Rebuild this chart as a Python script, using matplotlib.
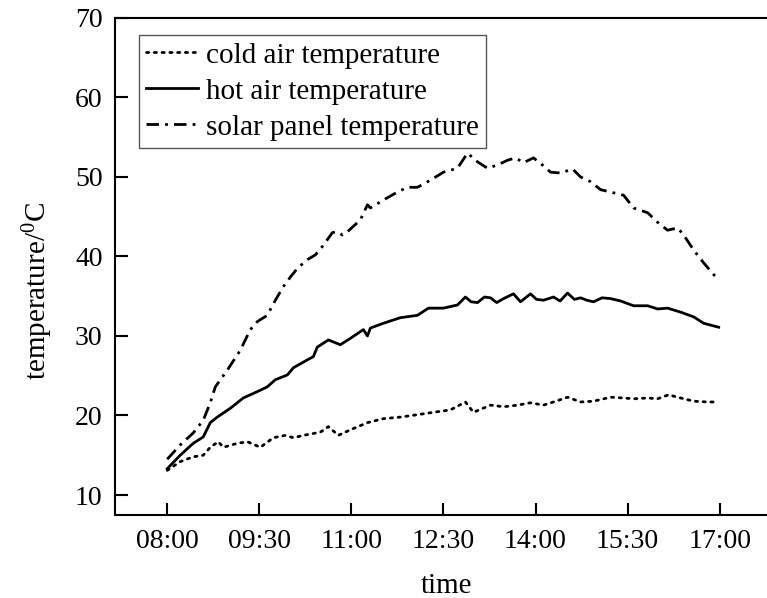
import matplotlib
matplotlib.use('Agg')
import matplotlib.pyplot as plt

plt.rcParams['font.family'] = 'Liberation Serif'
plt.rcParams['mathtext.fontset'] = 'custom'
plt.rcParams['mathtext.rm'] = 'Liberation Serif'
plt.rcParams['mathtext.it'] = 'Liberation Serif'

#minutes after 08:00 and temperatures
solarTimes = [0, 12.7, 25.4, 35.2, 42.1, 47.0, 58.7, 71.4, 81.2, 88.0, 97.8, 105.7,
              113.5, 120.3, 127.2, 137.0, 144.8, 152.6, 161.4, 166.3, 171.2, 176.1,
              188.8, 195.7, 198.6, 211.3, 225.0, 234.8, 244.6, 257.3, 270.0, 283.7,
              293.5, 303.3, 313.0, 322.8, 332.6, 340.4, 348.3, 358.0, 366.8, 374.7,
              384.5, 396.2, 404.0, 413.8, 423.6, 433.4, 446.1, 455.9, 469.6, 479.3,
              489.1, 498.9, 504.8, 514.6, 524.3, 539.0]
solarTemps = [14.5, 16.3, 17.8, 19.4, 21.6, 23.6, 25.7, 28.2, 30.8, 31.8, 32.6, 34.5,
              36.2, 37.4, 38.5, 39.6, 40.2, 41.4, 43.0, 43.1, 42.7, 43.1,
              44.6, 46.5, 46.1, 47.1, 48.1, 48.7, 48.7, 49.6, 50.6, 51.1,
              53.0, 51.9, 51.1, 51.5, 52.1, 52.4, 51.8, 52.4, 51.5, 50.6,
              50.5, 51.0, 50.0, 49.4, 48.4, 48.1, 47.7, 46.1, 45.5, 44.3,
              43.3, 43.6, 42.7, 40.8, 39.2, 37.0]

hotTimes = [0, 12.7, 25.4, 35.2, 42.1, 48.9, 61.6, 74.3, 88.0, 97.8, 105.7, 117.4,
            123.3, 137.0, 142.8, 146.7, 157.5, 169.2, 179.0, 191.7, 195.7, 198.6,
            211.3, 227.9, 244.6, 255.3, 270.0, 283.7, 291.5, 297.0, 303.3, 310.0,
            316.0, 322.0, 328.7, 338.5, 345.3, 355.1, 361.0, 367.8, 377.6, 384.0,
            391.3, 398.0, 404.0, 410.0, 416.7, 425.0, 433.4, 443.2, 455.9, 469.6,
            479.3, 489.1, 501.8, 514.6, 524.3, 539.0]
hotTemps = [13.3, 15.0, 16.5, 17.3, 19.1, 19.8, 20.9, 22.2, 23.0, 23.6, 24.5, 25.1,
            26.0, 27.0, 27.4, 28.6, 29.5, 28.9, 29.7, 30.8, 30.0, 31.0,
            31.6, 32.3, 32.6, 33.5, 33.5, 33.9, 34.9, 34.3, 34.2, 34.9,
            34.8, 34.2, 34.7, 35.3, 34.3, 35.3, 34.6, 34.5, 34.9, 34.4,
            35.4, 34.6, 34.8, 34.5, 34.3, 34.8, 34.7, 34.4, 33.8, 33.8,
            33.4, 33.5, 33.0, 32.4, 31.6, 31.1]

coldTimes = [0, 12.7, 25.4, 35.2, 42.1, 49.9, 54.8, 68.5, 78.3, 91.0, 103.7, 115.4,
             123.3, 133.0, 149.7, 157.5, 167.3, 179.0, 195.7, 211.3, 227.9, 244.6,
             260.2, 276.8, 291.5, 299.3, 316.0, 328.7, 342.4, 355.1, 367.8, 377.6,
             391.3, 404.0, 416.7, 433.4, 446.1, 455.9, 469.6, 479.3, 490.1, 501.8,
             514.6, 528.0, 537.1]
coldTemps = [13.1, 14.2, 14.8, 15.0, 16.0, 16.7, 16.0, 16.5, 16.7, 16.0, 17.2, 17.5,
             17.2, 17.5, 17.9, 18.6, 17.5, 18.2, 19.1, 19.6, 19.8, 20.1,
             20.4, 20.7, 21.7, 20.4, 21.3, 21.1, 21.3, 21.6, 21.3, 21.7,
             22.3, 21.7, 21.8, 22.3, 22.2, 22.1, 22.2, 22.1, 22.6, 22.2,
             21.8, 21.7, 21.7]

tickTimes = [0, 90, 180, 270, 360, 450, 540]
tickLabels = ['08:00', '09:30', '11:00', '12:30', '14:00', '15:30', '17:00']
yTicks = [10, 20, 30, 40, 50, 60, 70]

def main():
    fig = plt.figure(figsize=(7.67, 5.98), dpi=100)
    ax = fig.add_axes([0.150, 0.139, 0.851, 0.831])

    ax.plot(coldTimes, coldTemps, color='black', lw=2.0, ls=(0, (0.8, 2.0)),
            dash_capstyle='round', label='cold air temperature')
    ax.plot(hotTimes, hotTemps, color='black', lw=2.0, label='hot air temperature')
    ax.plot(solarTimes, solarTemps, color='black', lw=2.0, ls=(0, (4.5, 2.2, 1, 2.2)),
            label='solar panel temperature')

    ax.set_xlim(-51, 587)
    ax.set_ylim(7.5, 70)
    ax.set_xticks(tickTimes)
    ax.set_xticklabels(tickLabels)
    ax.set_yticks(yTicks)
    ax.tick_params(direction='in', length=9, width=1.5, labelsize=20)
    ax.tick_params(axis='x', pad=10)
    ax.tick_params(axis='y', pad=9)
    for s in ['left', 'bottom', 'top']:
        ax.spines[s].set_linewidth(1.5)
    ax.spines['right'].set_visible(False)

    ax.set_xlabel('time', fontsize=21)
    ax.xaxis.set_label_coords(0.508, -0.117)
    ax.set_ylabel(r'temperature/$^{0}$C', fontsize=21)
    ax.yaxis.set_label_coords(-0.092, 0.45)

    leg = ax.legend(loc='upper left', bbox_to_anchor=(0.037, 0.966), borderaxespad=0,
                    fontsize=21, handlelength=1.75, handletextpad=0.3, labelspacing=0.33,
                    borderpad=0.25, fancybox=False, framealpha=1)
    leg.get_frame().set_edgecolor('#555555')
    leg.get_frame().set_linewidth(1.0)

    fig.savefig('out.png', dpi=100)

if __name__ == '__main__':
    main()
